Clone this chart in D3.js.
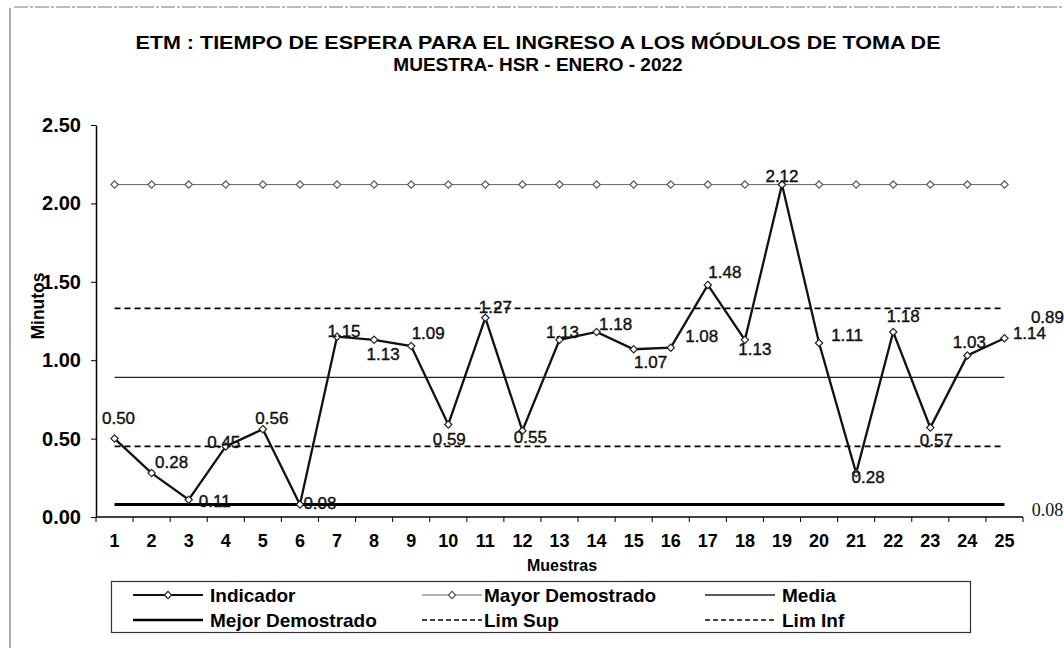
<!DOCTYPE html>
<html>
<head>
<meta charset="utf-8">
<script src="https://cdn.jsdelivr.net/npm/d3@7"></script>
<style>
  body { margin: 0; background: #fff; }
  svg { display: block; font-family: "Liberation Sans", Arial, sans-serif; }
  .bold { font-weight: bold; }
</style>
</head>
<body>
<svg id="chart" width="1064" height="648"></svg>
<script>
// Data
const titleLines = ['ETM : TIEMPO DE ESPERA PARA EL INGRESO A LOS MÓDULOS DE TOMA DE', 'MUESTRA- HSR - ENERO - 2022'];
const muestras = d3.range(1, 26);
const indicador = [0.50, 0.28, 0.11, 0.45, 0.56, 0.08, 1.15, 1.13, 1.09, 0.59, 1.27, 0.55, 1.13,
  1.18, 1.07, 1.08, 1.48, 1.13, 2.12, 1.11, 0.28, 1.18, 0.57, 1.03, 1.14];
const mayorDemostrado = 2.12;
const mejorDemostrado = 0.08;
const media = 0.89;
const limSup = 1.33;
const limInf = 0.45;
const yTicks = [0, 0.5, 1, 1.5, 2, 2.5];

// Label nudges (layout only), [dx, dy] from the point to the label centre
const labelOffset = [[4, -20], [20, -11], [26, 2], [-2, -4], [9, -11], [20, -1], [7, -5], [9, 15],
  [17, -13], [1, 15], [10, -10], [8, 7], [3, -7], [19, -7], [17, 13], [31, -11], [17, -12],
  [10, 10], [0, -8], [28, -7], [12, 4], [10, -15], [6, 13], [2, -13], [25, -5]];

const svg = d3.select('#chart');

// Frame (scan edge)
svg.append('line').attr('x1', 14).attr('x2', 1064).attr('y1', 7).attr('y2', 7)
  .attr('stroke', '#777').attr('stroke-dasharray', '14,2,3,2');
svg.append('line').attr('x1', 10).attr('x2', 10).attr('y1', 8).attr('y2', 648)
  .attr('stroke', '#555');

// Title
svg.append('text').attr('class', 'bold').attr('text-anchor', 'middle')
  .attr('font-size', 19)
  .selectAll('tspan').data(titleLines).join('tspan')
  .attr('x', 538).attr('y', (d, i) => 49 + i * 22)
  .attr('textLength', (d, i) => (i === 0 ? 805 : null))
  .attr('lengthAdjust', 'spacingAndGlyphs')
  .text((d) => d);

const x = d3.scaleBand().domain(muestras).range([96, 1023]);
const cx = (d) => x(d) + x.bandwidth() / 2;
const y = d3.scaleLinear().domain([0, 2.5]).range([517, 125]);

// Axes
const yAxis = svg.append('g').attr('transform', 'translate(96,0)')
  .call(d3.axisLeft(y).tickValues(yTicks).tickFormat(d3.format('.2f')).tickSize(5).tickSizeOuter(0));
yAxis.select('.domain').attr('stroke', '#000').attr('stroke-width', 1.5);
yAxis.selectAll('.tick line').attr('stroke', '#000');
yAxis.selectAll('.tick text').attr('class', 'bold').attr('font-size', 20)
  .attr('font-family', '"Liberation Sans", Arial, sans-serif').attr('fill', '#000').attr('x', -15);

const xAxisG = svg.append('g').attr('transform', 'translate(0,517)');
xAxisG.append('line').attr('x1', 96).attr('x2', 1023).attr('stroke', '#000').attr('stroke-width', 1.5);
xAxisG.selectAll('.tk').data(muestras.concat([26])).join('line')
  .attr('x1', (d) => (d <= 25 ? x(d) : x(25) + x.bandwidth()))
  .attr('x2', (d) => (d <= 25 ? x(d) : x(25) + x.bandwidth()))
  .attr('y1', 0).attr('y2', 5).attr('stroke', '#000');
xAxisG.selectAll('.lbl').data(muestras).join('text')
  .attr('class', 'bold').attr('text-anchor', 'middle').attr('font-size', 18)
  .attr('x', cx).attr('y', 30).text((d) => d);

svg.append('text').attr('class', 'bold').attr('text-anchor', 'middle').attr('font-size', 16)
  .attr('x', 562).attr('y', 571).text('Muestras');
svg.append('text').attr('class', 'bold').attr('text-anchor', 'middle').attr('font-size', 17.5)
  .attr('transform', 'translate(44,306) rotate(-90)').text('Minutos');

// Reference lines
const flat = (v) => muestras.map((m) => ({m, v}));
const line = d3.line().x((d) => cx(d.m)).y((d) => y(d.v));
const refs = [
  {v: mejorDemostrado, stroke: '#000', width: 3, dash: null},
  {v: media, stroke: '#222', width: 1.3, dash: null},
  {v: limSup, stroke: '#000', width: 1.8, dash: '6,4'},
  {v: limInf, stroke: '#000', width: 1.8, dash: '6,4'},
  {v: mayorDemostrado, stroke: '#666', width: 1, dash: null},
];
refs.forEach((r) => {
  svg.append('path').datum(flat(r.v)).attr('d', line).attr('fill', 'none')
    .attr('stroke', r.stroke).attr('stroke-width', r.width)
    .attr('stroke-dasharray', r.dash);
});

const diamond = d3.symbol().type(d3.symbolDiamond2).size(34);
svg.append('g').selectAll('path').data(flat(mayorDemostrado)).join('path')
  .attr('d', diamond).attr('transform', (d) => `translate(${cx(d.m)},${y(d.v)})`)
  .attr('fill', '#fff').attr('stroke', '#555').attr('stroke-width', 1.2);

// Indicador
const ind = muestras.map((m, i) => ({m, v: indicador[i]}));
svg.append('path').datum(ind).attr('d', line).attr('fill', 'none')
  .attr('stroke', '#111').attr('stroke-width', 2.3).attr('stroke-linejoin', 'miter');
svg.append('g').selectAll('path').data(ind).join('path')
  .attr('d', diamond).attr('transform', (d) => `translate(${cx(d.m)},${y(d.v)})`)
  .attr('fill', '#fff').attr('stroke', '#222').attr('stroke-width', 1.2);

svg.append('g').selectAll('text').data(ind).join('text')
  .attr('text-anchor', 'middle').attr('dominant-baseline', 'central').attr('font-size', 17)
  .attr('fill', '#111').attr('stroke', '#111').attr('stroke-width', 0.4)
  .attr('x', (d, i) => cx(d.m) + labelOffset[i][0])
  .attr('y', (d, i) => y(d.v) + labelOffset[i][1])
  .text((d) => d.v.toFixed(2));

// End labels
const xEnd = cx(25) + 43;
svg.append('text').attr('text-anchor', 'middle').attr('dominant-baseline', 'central')
  .attr('font-size', 17).attr('fill', '#111').attr('stroke', '#111').attr('stroke-width', 0.4)
  .attr('x', xEnd).attr('y', y(limSup) + 9).text(media.toFixed(2));
svg.append('text').attr('text-anchor', 'middle').attr('dominant-baseline', 'central')
  .attr('font-size', 18).attr('font-family', '"Liberation Serif", "Times New Roman", serif')
  .attr('fill', '#111')
  .attr('x', xEnd).attr('y', y(mejorDemostrado) + 6).text(mejorDemostrado.toFixed(2));

// Legend
const legendItems = [
  {name: 'Indicador', stroke: '#111', width: 2, dash: null, marker: '#222'},
  {name: 'Mayor Demostrado', stroke: '#666', width: 1, dash: null, marker: '#555'},
  {name: 'Media', stroke: '#222', width: 1.3, dash: null, marker: null},
  {name: 'Mejor Demostrado', stroke: '#000', width: 2.5, dash: null, marker: null},
  {name: 'Lim Sup', stroke: '#000', width: 1.6, dash: '5,3', marker: null},
  {name: 'Lim Inf', stroke: '#000', width: 1.6, dash: '5,3', marker: null},
];
const legendCols = [133, 422, 705];
const legendTop = 581;
const legend = svg.append('g');
legend.append('rect').attr('x', 111.5).attr('y', legendTop + 0.5).attr('width', 859).attr('height', 51)
  .attr('fill', 'none').attr('stroke', '#333').attr('stroke-width', 1.2);
const li = legend.selectAll('g.item').data(legendItems).join('g')
  .attr('transform', (d, i) => `translate(${legendCols[i % 3]},${legendTop + (i < 3 ? 14 : 39)})`);
li.append('line').attr('x1', 0).attr('x2', (d, i) => (i % 3 === 1 ? 60 : 70))
  .attr('stroke', (d) => d.stroke).attr('stroke-width', (d) => d.width)
  .attr('stroke-dasharray', (d) => d.dash);
li.filter((d) => d.marker).append('path').attr('d', diamond)
  .attr('transform', (d, i) => `translate(${i === 0 ? 35 : 30},0)`)
  .attr('fill', '#fff').attr('stroke', (d) => d.marker).attr('stroke-width', 1.2);
li.append('text').attr('class', 'bold').attr('font-size', 19).attr('dominant-baseline', 'central')
  .attr('x', (d, i) => (i % 3 === 1 ? 62 : 77)).text((d) => d.name);
</script>
</body>
</html>
